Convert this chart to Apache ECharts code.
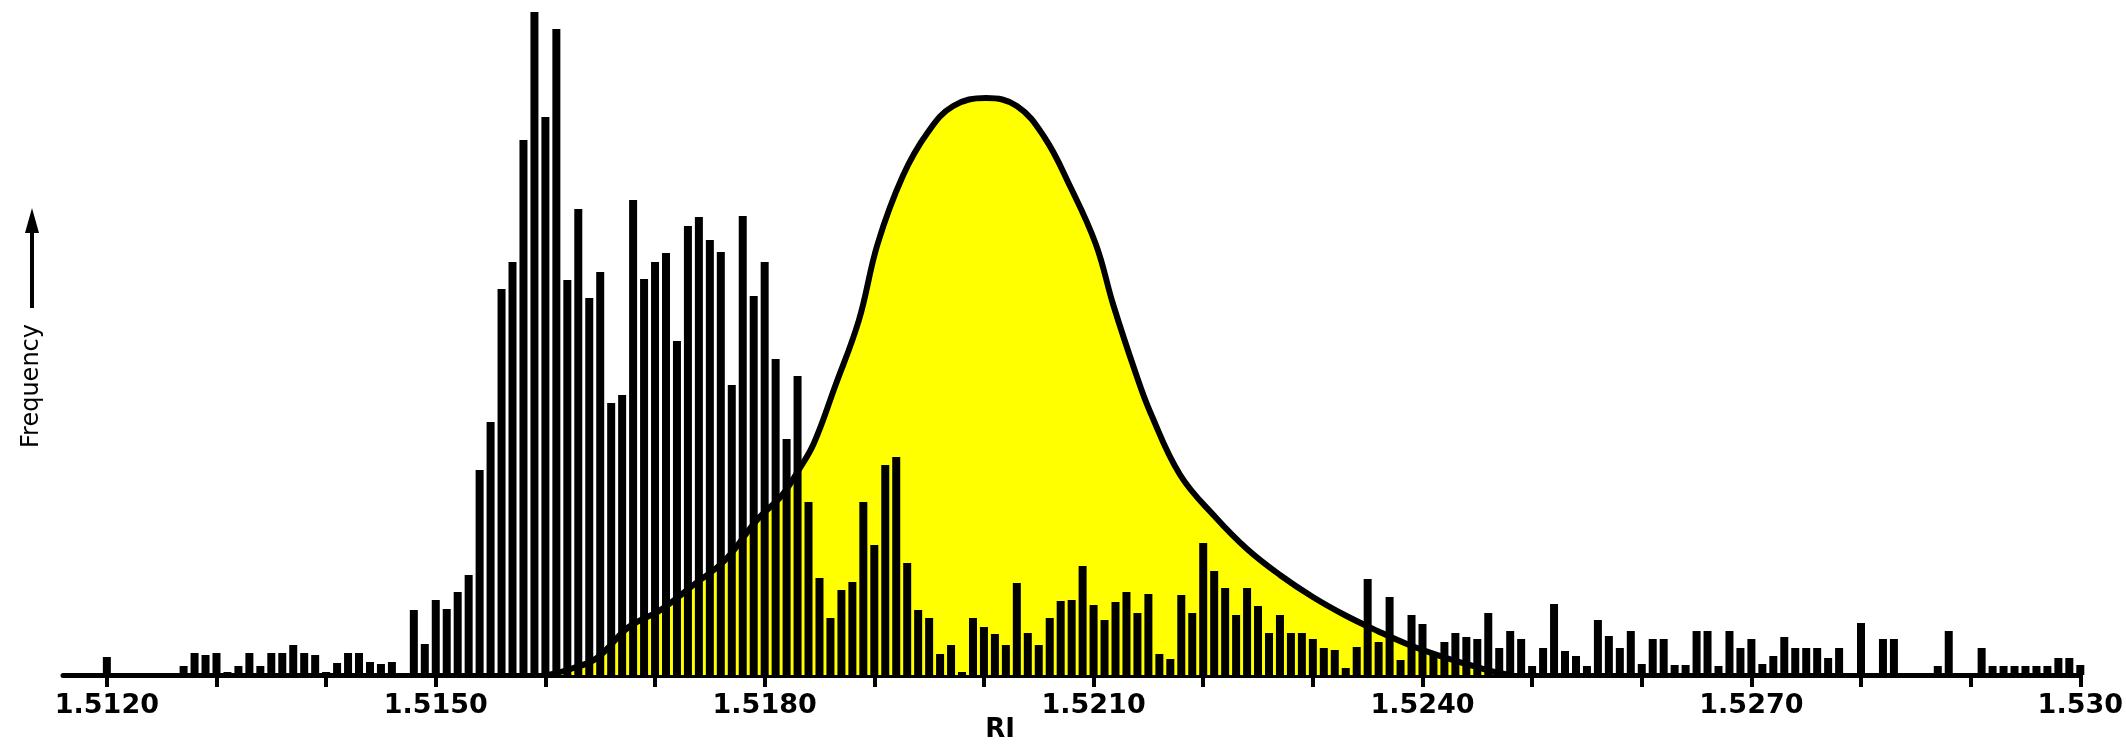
<!DOCTYPE html>
<html>
<head>
<meta charset="utf-8">
<title>RI frequency</title>
<script src="https://cdn.jsdelivr.net/npm/echarts@6/dist/echarts.min.js"></script>
<style>
  html, body { margin: 0; padding: 0; background: #fff; }
  #chart { width: 2126px; height: 746px; }
</style>
</head>
<body>
<div id="chart"></div>
<script>
// histogram: one count per 0.0001 RI bin, first bin at 1.5120
var binStart = 1.512
var binWidth = 0.0001

var freq1512to1514 = [
  1.8, 0, 0.2, 0.2, 0.2, 0.2, 0.2, 0.9, 2.2, 2.0,
  2.2, 0.3, 0.9, 2.2, 0.9, 2.2, 2.2, 3.0, 2.2, 2.0,
  0.3, 1.2, 2.2, 2.2, 1.3, 1.1, 1.3, 0.2, 6.5, 3.1
]
var freq1515to1517 = [
  7.5, 6.6, 8.3, 10.0, 20.5, 25.3, 38.6, 41.3, 53.5, 66.3,
  55.8, 64.6, 39.5, 46.6, 37.7, 40.3, 27.2, 28.0, 47.5, 39.6,
  41.3, 42.2, 33.4, 44.9, 45.8, 43.5, 42.3, 29.0, 45.9, 37.9
]
var freq1518to1520 = [
  41.3, 31.6, 23.6, 29.9, 17.3, 9.7, 5.7, 8.5, 9.3, 17.3,
  13.0, 21.0, 21.8, 11.2, 6.5, 5.7, 2.1, 3.0, 0.3, 5.7,
  4.8, 4.1, 3.0, 9.2, 4.2, 3.0, 5.7, 7.4, 7.5, 10.9
]
var freq1521to1523 = [
  7.0, 5.5, 7.3, 8.3, 6.2, 8.1, 2.1, 1.6, 8.0, 6.2,
  13.2, 10.4, 8.7, 6.0, 8.7, 6.9, 4.2, 6.0, 4.2, 4.2,
  3.6, 2.7, 2.5, 0.7, 2.8, 9.6, 3.3, 7.8, 1.5, 6.0
]
var freq1524to1526 = [
  5.1, 2.2, 3.3, 4.2, 3.8, 3.6, 6.2, 2.7, 4.4, 3.6,
  0.9, 2.7, 7.1, 2.4, 1.9, 0.9, 5.5, 3.9, 2.7, 4.4,
  1.1, 3.6, 3.6, 1.0, 1.0, 4.4, 4.4, 0.9, 4.4, 2.7
]
var freq1527to1530 = [
  3.6, 1.1, 1.9, 3.8, 2.7, 2.7, 2.7, 1.7, 2.7, 0.2,
  5.2, 0.2, 3.6, 3.6, 0.2, 0.2, 0.2, 0.9, 4.4, 0.2,
  0.2, 2.7, 0.9, 0.9, 0.9, 0.9, 0.9, 0.9, 1.7, 1.7, 1.0
]

// fitted density curve
var curveRI = [
  1.51602, 1.51623, 1.51647, 1.51676, 1.51705, 1.51735, 1.51764, 1.51793,
  1.51816, 1.51831, 1.51845, 1.51864, 1.51886, 1.51903, 1.51926, 1.51949,
  1.51972, 1.52002, 1.52030, 1.52055, 1.52078, 1.52102, 1.52118, 1.52139,
  1.52152, 1.52179, 1.52211, 1.52240, 1.52270, 1.52300, 1.52329, 1.52359,
  1.52388, 1.52419, 1.52437, 1.52462, 1.52480
]
var curveFreq = [
  0, 0.6, 1.7, 4.8, 6.5, 9.0, 11.5, 15.5,
  18.0, 20.5, 23.2, 28.8, 35.5, 43.1, 49.9, 54.3,
  56.9, 57.7, 56.9, 53.8, 49.0, 43.1, 37.0, 30.0,
  26.2, 20.0, 15.8, 12.6, 10.0, 7.8, 6.0, 4.4,
  3.0, 1.8, 1.2, 0.4, 0
]

var tickValues = [1.512, 1.513, 1.514, 1.515, 1.516, 1.517, 1.518, 1.519, 1.520,
  1.521, 1.522, 1.523, 1.524, 1.525, 1.526, 1.527, 1.528, 1.529, 1.530]
var labelValues = [1.512, 1.515, 1.518, 1.521, 1.524, 1.527, 1.530]
var tickLabels = ['1.5120', '1.5150', '1.5180', '1.5210', '1.5240', '1.5270', '1.530']

var counts = freq1512to1514.concat(freq1515to1517, freq1518to1520,
  freq1521to1523, freq1524to1526, freq1527to1530)
var barData = counts.map(function(v, i) {
  return [+(binStart + i * binWidth).toFixed(4), v]
})
var curveData = curveRI.map(function(x, i) {
  return [x, curveFreq[i]]
})

var chart = echarts.init(document.getElementById('chart'))
var option = {
  backgroundColor: '#fff',
  animation: false,
  grid: {
    left: 63,
    right: 41,
    top: 5,
    bottom: 71
  },
  xAxis: {
    type: 'value',
    min: 1.5116,
    max: 1.530,
    axisLine: {
      show: true,
      lineStyle: { color: '#000', width: 5 }
    },
    axisTick: {
      show: true,
      customValues: tickValues,
      length: 12,
      lineStyle: { color: '#000', width: 4 }
    },
    axisLabel: {
      customValues: labelValues,
      margin: 17,
      color: '#000',
      fontFamily: 'DejaVu Sans',
      fontWeight: 'bold',
      fontSize: 27,
      formatter: function(v) {
        for (var i = 0; i < labelValues.length; i++) {
          if (Math.abs(labelValues[i] - v) < 1e-7) return tickLabels[i]
        }
        return ''
      }
    },
    splitLine: { show: false }
  },
  yAxis: {
    type: 'value',
    min: 0,
    max: 67,
    show: false,
    splitLine: { show: false }
  },
  series: [
    {
      // yellow fill under the curve
      type: 'line',
      data: curveData,
      smooth: 0.4,
      showSymbol: false,
      lineStyle: { width: 0 },
      areaStyle: { color: '#ffff00', opacity: 1 },
      z: 1
    },
    {
      type: 'bar',
      data: barData,
      barWidth: 8,
      itemStyle: { color: '#000' },
      z: 2
    },
    {
      // curve outline on top of the bars
      type: 'line',
      data: curveData,
      smooth: 0.4,
      showSymbol: false,
      lineStyle: { color: '#000', width: 6 },
      z: 3
    }
  ],
  graphic: [
    {
      type: 'text',
      x: 1000,
      y: 730,
      style: {
        text: 'RI',
        fill: '#000',
        font: 'bold 26px "DejaVu Sans"',
        align: 'center',
        verticalAlign: 'middle'
      }
    },
    {
      type: 'text',
      x: 32,
      y: 386,
      rotation: Math.PI / 2,
      style: {
        text: 'Frequency',
        fill: '#000',
        font: '24px "DejaVu Sans"',
        align: 'center',
        verticalAlign: 'middle'
      }
    },
    {
      type: 'line',
      shape: { x1: 32, y1: 308, x2: 32, y2: 225 },
      style: { stroke: '#000', lineWidth: 4 }
    },
    {
      type: 'polygon',
      shape: { points: [[32, 208], [25, 233], [39, 233]] },
      style: { fill: '#000' }
    }
  ]
}
chart.setOption(option)
window.addEventListener('resize', function() {
  chart.resize()
})
</script>
</body>
</html>
